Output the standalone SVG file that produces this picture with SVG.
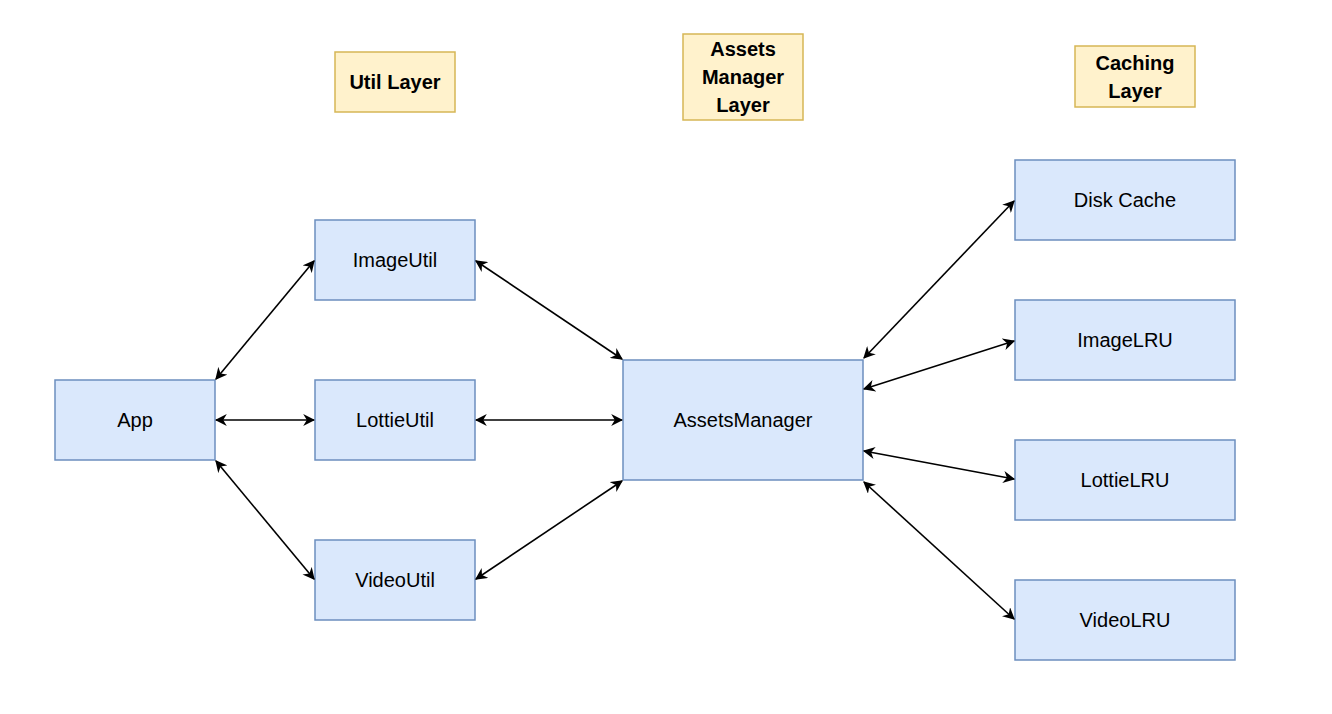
<svg xmlns="http://www.w3.org/2000/svg" width="1332" height="714" viewBox="0 0 1332 714">
<style>
.n{fill:#dae8fc;stroke:#6c8ebf;stroke-width:1.5}
.l{fill:#fff2cc;stroke:#d6b656;stroke-width:1.5}
text{font-family:"Liberation Sans",Arial,sans-serif;font-size:20px;fill:#000;text-anchor:middle;dominant-baseline:central}
.b{font-weight:bold}
.e{stroke:#000;stroke-width:1.6;fill:none;marker-start:url(#a);marker-end:url(#a)}
</style>
<defs><marker id="a" viewBox="0 0 10 10" refX="9" refY="5" markerWidth="12" markerHeight="12" markerUnits="userSpaceOnUse" orient="auto-start-reverse"><path d="M0,0 L10,5 L0,10 L3,5 Z" fill="#000"/></marker></defs>
<rect width="1332" height="714" fill="#fff"/>
<g id="util-layer"><rect class="l" x="335" y="52" width="120" height="60"/><text class="b" x="395" y="82">Util Layer</text></g>
<g id="assets-layer"><rect class="l" x="683" y="34" width="120" height="86"/><text class="b" x="743" y="49">Assets</text><text class="b" x="743" y="77">Manager</text><text class="b" x="743" y="105">Layer</text></g>
<g id="caching-layer"><rect class="l" x="1075" y="46" width="120" height="61"/><text class="b" x="1135" y="63">Caching</text><text class="b" x="1135" y="91">Layer</text></g>
<g id="app"><rect class="n" x="55" y="380" width="160" height="80"/><text x="135" y="420">App</text></g>
<g id="imageutil"><rect class="n" x="315" y="220" width="160" height="80"/><text x="395" y="260">ImageUtil</text></g>
<g id="lottieutil"><rect class="n" x="315" y="380" width="160" height="80"/><text x="395" y="420">LottieUtil</text></g>
<g id="videoutil"><rect class="n" x="315" y="540" width="160" height="80"/><text x="395" y="580">VideoUtil</text></g>
<g id="assetsmanager"><rect class="n" x="623" y="360" width="240" height="120"/><text x="743" y="420">AssetsManager</text></g>
<g id="diskcache"><rect class="n" x="1015" y="160" width="220" height="80"/><text x="1125" y="200">Disk Cache</text></g>
<g id="imagelru"><rect class="n" x="1015" y="300" width="220" height="80"/><text x="1125" y="340">ImageLRU</text></g>
<g id="lottielru"><rect class="n" x="1015" y="440" width="220" height="80"/><text x="1125" y="480">LottieLRU</text></g>
<g id="videolru"><rect class="n" x="1015" y="580" width="220" height="80"/><text x="1125" y="620">VideoLRU</text></g>
<g id="connectors">
<line class="e" x1="216" y1="379" x2="314" y2="261"/>
<line class="e" x1="216" y1="420" x2="314" y2="420"/>
<line class="e" x1="216" y1="461" x2="314" y2="579"/>
<line class="e" x1="476" y1="261" x2="622" y2="359"/>
<line class="e" x1="476" y1="420" x2="622" y2="420"/>
<line class="e" x1="476" y1="579" x2="622" y2="481"/>
<line class="e" x1="864" y1="358" x2="1014" y2="201"/>
<line class="e" x1="864" y1="389" x2="1014" y2="341"/>
<line class="e" x1="864" y1="451" x2="1014" y2="479"/>
<line class="e" x1="864" y1="482" x2="1014" y2="619"/>
</g>
</svg>
